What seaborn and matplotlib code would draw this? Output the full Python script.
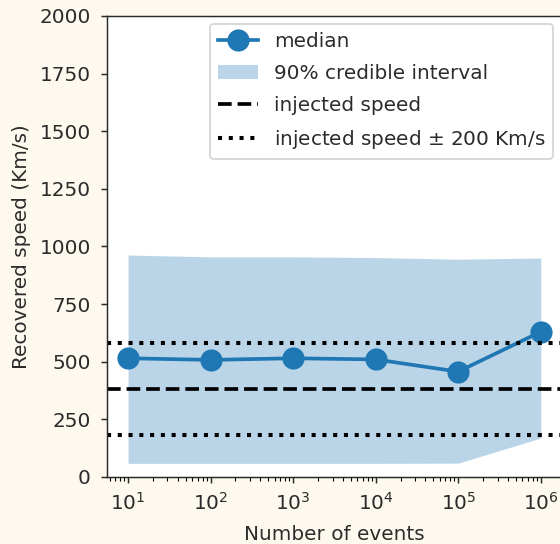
import numpy as np
import pandas as pd
import matplotlib
matplotlib.use("Agg")
import matplotlib.pyplot as plt
import seaborn as sns
from matplotlib.lines import Line2D
from matplotlib.patches import Patch

# Number of simulated events and recovered speed summary (Km/s)
n_events = [1e1, 1e2, 1e3, 1e4, 1e5, 1e6]
median_speed = [515, 508, 515, 510, 457, 630]
ci_lower = [59, 59, 59, 59, 60, 169]
ci_upper = [963, 955, 955, 952, 945, 950]
injected_speed = 380
tolerance = 200

df = pd.DataFrame({"events": n_events, "median": median_speed,
                   "lo": ci_lower, "hi": ci_upper})

DPI = 133
FS = 10.8
TXT = "#2b2b2b"
fig = plt.figure(figsize=(560 / DPI, 544 / DPI), dpi=DPI, facecolor="#fdf9ee")
ax = fig.add_axes([0.1918, 0.1232, 0.8107, 0.8474])
ax.set_facecolor("white")

blue = "#1f77b4"
ax.fill_between(df["events"], df["lo"], df["hi"], color=blue, alpha=0.3,
                linewidth=0)
sns.lineplot(data=df, x="events", y="median", ax=ax, color=blue,
             marker="o", markersize=11, linewidth=2, markeredgewidth=1,
             markeredgecolor=blue, legend=False)
ax.axhline(injected_speed, color="black", linestyle="--", linewidth=2)
ax.axhline(injected_speed + tolerance, color="black", linestyle=":", linewidth=2.2)
ax.axhline(injected_speed - tolerance, color="black", linestyle=":", linewidth=2.2)

ax.set_xscale("log")
ax.set_ylim(0, 2000)
ax.set_yticks([0, 250, 500, 750, 1000, 1250, 1500, 1750, 2000])
ax.set_xlabel("Number of events", fontsize=FS, color=TXT, labelpad=6)
ax.set_ylabel("Recovered speed (Km/s)", fontsize=FS, color=TXT, labelpad=4.5)
ax.tick_params(labelsize=FS, colors=TXT, pad=5.5)
ax.tick_params(axis="x", pad=4.5)
for s in ax.spines.values():
    s.set_color(TXT)

handles = [
    Line2D([], [], color=blue, marker="o", markersize=11, linewidth=2),
    Patch(facecolor=blue, alpha=0.3, linewidth=0),
    Line2D([], [], color="black", linestyle="--", linewidth=2),
    Line2D([], [], color="black", linestyle=":", linewidth=2.2),
]
labels = ["median", "90% credible interval", "injected speed",
          "injected speed $\\pm$ 200 Km/s"]
leg = ax.legend(handles, labels, loc="upper right", fontsize=FS,
                borderaxespad=0.4, labelspacing=0.65)
for t in leg.get_texts():
    t.set_color(TXT)

fig.savefig("out.png", dpi=DPI, facecolor=fig.get_facecolor())
